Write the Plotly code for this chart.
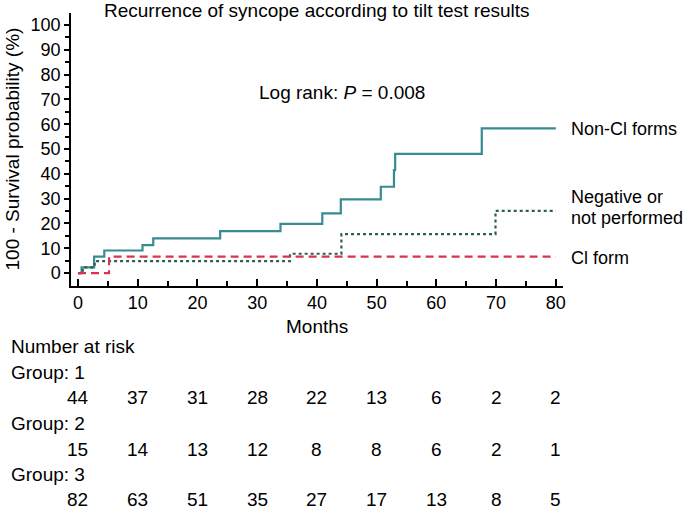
import plotly.graph_objects as go

# ---- data (months, 100 - survival %) ----
noncl_t = [0, 0.6, 2.7, 4.4, 10.8, 12.6, 23.8, 33.9, 40.9, 44.0, 50.7, 52.9, 53.1, 67.6, 80]
noncl_y = [0, 2.3, 6.6, 9.1, 11.3, 14.0, 16.9, 19.8, 24.1, 29.7, 34.8, 41.5, 48.0, 58.3, 58.3]

neg_t = [0, 0.8, 2.8, 35.5, 44.1, 69.9, 80]
neg_y = [0, 2.3, 4.8, 7.8, 15.7, 25.1, 25.1]

cl_t = [0, 5.2, 80]
cl_y = [0, 6.6, 6.6]

risk_months = [0, 10, 20, 30, 40, 50, 60, 70, 80]
risk_group1 = [44, 37, 31, 28, 22, 13, 6, 2, 2]
risk_group2 = [15, 14, 13, 12, 8, 8, 6, 2, 1]
risk_group3 = [82, 63, 51, 35, 27, 17, 13, 8, 5]

FONT = "Liberation Sans, Arial, Helvetica, sans-serif"
FS = 19

fig = go.Figure()
fig.add_trace(go.Scatter(x=noncl_t, y=noncl_y, mode="lines", line_shape="hv",
                         line=dict(color="#378c91", width=2.2)))
fig.add_trace(go.Scatter(x=neg_t, y=neg_y, mode="lines", line_shape="hv",
                         line=dict(color="#2c5f4f", width=2.2, dash="3px,3px")))
fig.add_trace(go.Scatter(x=cl_t, y=cl_y, mode="lines", line_shape="hv",
                         line=dict(color="#d9334f", width=2.2, dash="8px,5px")))

# plot area is 492 x 273 px; helper to turn pixel offsets into paper units
def px(x):
    return (x - 71) / 492

def py(y):
    return (286 - y) / 273

ann = []
# curve labels
rx = px(569)
lab_font = dict(size=18)
ann.append(dict(x=rx, y=py(129), text="Non-Cl forms", font=lab_font))
ann.append(dict(x=rx, y=py(197), text="Negative or", font=lab_font))
ann.append(dict(x=rx, y=py(218), text="not performed", font=lab_font))
ann.append(dict(x=rx, y=py(258), text="Cl form", font=lab_font))
ann.append(dict(x=px(341.5), y=py(93), text="Log rank: <i>P</i> = 0.008", xanchor="center"))

# title and axis titles
ann.append(dict(x=px(316.5), y=py(10), xanchor="center",
                text="Recurrence of syncope according to tilt test results"))
ann.append(dict(x=px(12), y=0.5, xanchor="center", textangle=-90,
                text="100 - Survival probability (%)"))
ann.append(dict(x=0.5, y=py(326), xanchor="center", text="Months"))

# number at risk table
lx = px(9)
ann.append(dict(x=lx, y=py(346), text="Number at risk"))
rows = [("Group: 1", risk_group1, 372, 398),
        ("Group: 2", risk_group2, 423, 449),
        ("Group: 3", risk_group3, 474, 500)]
for label, vals, ylab, yval in rows:
    ann.append(dict(x=lx, y=py(ylab), text=label))
    for m, v in zip(risk_months, vals):
        ann.append(dict(x=m, y=py(yval), xref="x", text=str(v), xanchor="center"))

for a in ann:
    a.setdefault("xref", "paper")
    a.setdefault("yref", "paper")
    a.setdefault("xanchor", "left")
    a.setdefault("yanchor", "middle")
    a["showarrow"] = False

fig.update_layout(
    width=685, height=513,
    margin=dict(l=71, r=122, t=13, b=227),
    paper_bgcolor="white", plot_bgcolor="white",
    showlegend=False,
    font=dict(family=FONT, size=FS, color="black"),
    annotations=ann,
)
fig.update_xaxes(range=[-1.17, 81.2], tickmode="array", tickvals=risk_months,
                 ticks="inside", ticklen=7, tickwidth=1.5, tickcolor="black",
                 minor=dict(tickvals=[5, 15, 25, 35, 45, 55, 65, 75], ticks="inside",
                            ticklen=5, tickwidth=1.5, tickcolor="black"),
                 showline=True, linecolor="black", linewidth=1.5,
                 showgrid=False, zeroline=False, tickfont=dict(size=18))
fig.update_yaxes(range=[-5.2, 104.8], tickmode="array", tickvals=list(range(0, 101, 10)),
                 ticks="outside", ticklen=5, tickwidth=1.5, tickcolor="black",
                 minor=dict(tickvals=list(range(5, 100, 10)), ticks="outside",
                            ticklen=4, tickwidth=1.5, tickcolor="black"),
                 showline=True, linecolor="black", linewidth=1.5,
                 showgrid=False, zeroline=False, tickfont=dict(size=18))

# drop the default 8px page margin so the figure sits at the window corner
fig.write_html("out.html", config={"displayModeBar": False},
               post_script="document.body.style.margin='0';")
